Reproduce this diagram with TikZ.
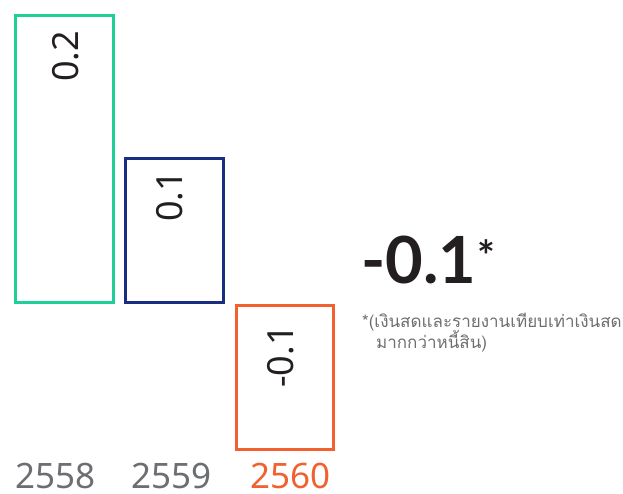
\documentclass[tikz,border=0pt]{standalone}
\usepackage{fontspec}
\setmainfont{Noto Sans}
\newfontfamily\bigfont{Lato}
\newfontfamily\thaifont[Script=Thai]{Loma}
\definecolor{cgreen}{RGB}{30,208,152}
\definecolor{cblue}{RGB}{27,45,128}
\definecolor{corange}{RGB}{242,96,48}
\definecolor{cdark}{RGB}{35,31,32}
\definecolor{cgray}{RGB}{109,110,113}
\begin{document}
\begin{tikzpicture}[x=1pt,y=1pt,
  bar/.style={line width=3pt},
  val/.style={rotate=90,anchor=base west,inner sep=0pt,font=\fontsize{36}{36}\selectfont,text=cdark},
  year/.style={anchor=base west,inner sep=0pt,text depth=0pt,font=\fontsize{35}{35}\selectfont,text=cgray},
  note/.style={anchor=base west,inner sep=0pt,font=\thaifont\fontsize{17}{17}\selectfont,text=cgray}]
\useasboundingbox (0,0) rectangle (623,493);
\draw[bar,cgreen] (15.5,477.5) rectangle (113.5,190.5);
\draw[bar,cblue] (125.5,334.5) rectangle (223.5,190.5);
\draw[bar,corange] (236.5,187.5) rectangle (333.5,43.5);
\node[val] (v1) at (78,411) {0.2};
\node[val] (v2) at (182,271) {0.1};
\node[val] (v3) at (293,105) {-0.1};
\node[year] (y1) at (15,5) {2558};
\node[year] (y2) at (131,5) {2559};
\node[year,text=corange] (y3) at (250,5) {2560};
\node[anchor=base west,inner sep=0pt,font=\bigfont\bfseries\fontsize{65}{65}\selectfont,text=cdark] (big) at (361,210) {-0.1};
\node[anchor=base west,inner sep=0pt,font=\bigfont\bfseries\fontsize{42}{42}\selectfont,text=cdark] (star) at (477,222) {*};
\node[note] (n1) at (362,166) {*(เงินสดและรายงานเทียบเท่าเงินสด};
\node[note] (n2) at (376,145) {มากกว่าหนี้สิน)};
\end{tikzpicture}
\end{document}
